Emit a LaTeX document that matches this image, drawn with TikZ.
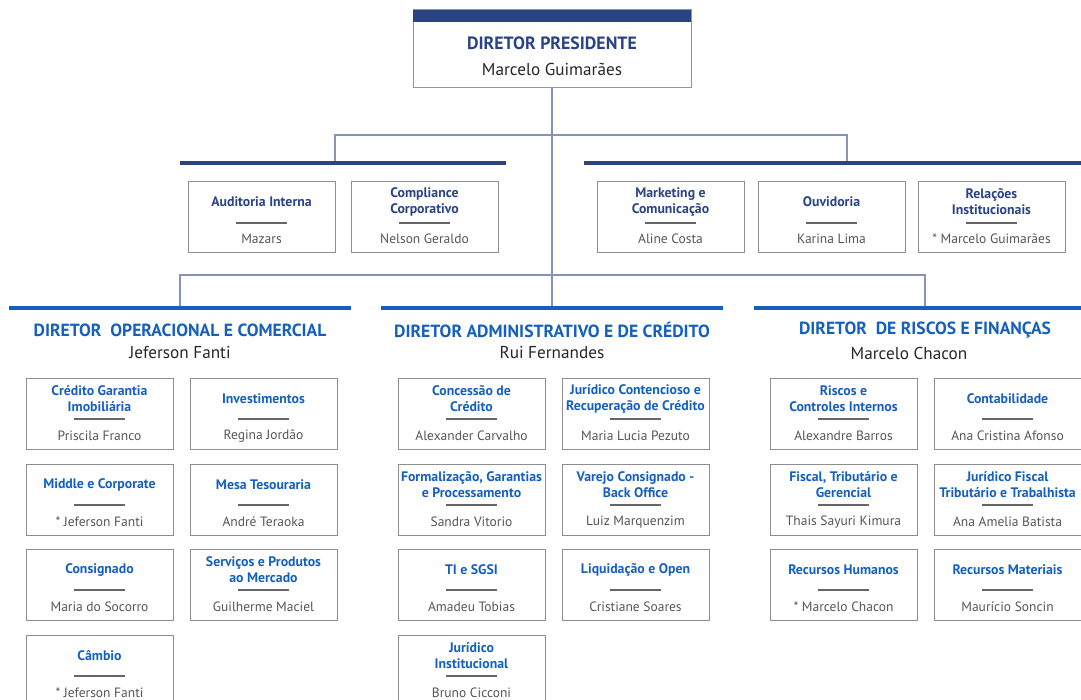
\documentclass[tikz,border=0pt]{standalone}
\usepackage{fontspec}
\setmainfont{PT Sans}
\usepackage{tikz}
\usetikzlibrary{positioning}

\definecolor{navy}{HTML}{2A4385}
\definecolor{dirblue}{HTML}{1560BD}
\definecolor{linkgray}{HTML}{8794B8}
\definecolor{boxgray}{HTML}{8E8E8E}
\definecolor{rulegray}{HTML}{666666}
\definecolor{namegray}{HTML}{555555}

\begin{document}
\begin{tikzpicture}[x=1pt, y=-1pt,
    every node/.style={align=center, inner sep=0pt, outer sep=0pt},
    link/.style={draw=linkgray, line width=1.1pt},
    topbar/.style={fill=navy, minimum height=4.5, anchor=north west},
    dirbar/.style={fill=dirblue, minimum height=4.5, minimum width=342, anchor=north west},
    unit/.style={draw=boxgray, line width=0.9pt, minimum width=147, minimum height=71, anchor=north west},
    unitrule/.style={draw=rulegray, line width=2.2pt},
    unittitle/.style={font=\fontsize{13.8}{16.2}\selectfont\bfseries},
    unitname/.style={font=\fontsize{13.5}{15}\selectfont, text=namegray},
    dirtitle/.style={font=\fontsize{17.6}{20}\selectfont\bfseries, text=dirblue},
    dirname/.style={font=\fontsize{17.2}{20}\selectfont, text=black!85}]
  \clip (0,0) rectangle (1081,700);

  % presidente
  \node[draw=linkgray, line width=1pt, minimum width=278, minimum height=78, anchor=north west] (pres) at (413,10) {};
  \fill[navy] (pres.north west) rectangle ([yshift=-12pt]pres.north east);
  \node[font=\fontsize{17.8}{20}\selectfont\bfseries, text=navy] (presTitle) at ([yshift=-33pt]pres.north) {DIRETOR PRESIDENTE};
  \node[dirname] (presName) at ([yshift=-59pt]pres.north) {Marcelo Guimarães};

  % barras
  \node[topbar, minimum width=326] (barStaffL) at (180,161) {};
  \node[topbar, minimum width=497] (barStaffR) at (584,161) {};
  \node[dirbar] (barOp) at (9,306) {};
  \node[dirbar] (barAdm) at (381,306) {};
  \node[dirbar] (barRisk) at (754,306) {};

  % ligacoes
  \coordinate (hubStaff) at (552,135);
  \coordinate (tapL) at (335,161);
  \coordinate (tapR) at (847,161);
  \coordinate (hubDir) at (552,275);
  \draw[link] (pres.south) -- (barAdm.north);
  \draw[link] (tapL) |- (hubStaff) -| (tapR);
  \draw[link] (barOp.north) |- (hubDir) -| (barRisk.north);

  % diretorias
  \node[dirtitle] (dirOp) at (180,330) {DIRETOR\ \ OPERACIONAL E COMERCIAL};
  \node[dirname] (dirOpName) at (180,353) {Jeferson Fanti};
  \node[dirtitle] (dirAdm) at (552,330) {DIRETOR ADMINISTRATIVO E DE CRÉDITO};
  \node[dirname] (dirAdmName) at (552,353) {Rui Fernandes};
  \node[dirtitle] (dirRisk) at (925,330) {DIRETOR\ \ DE RISCOS E FINANÇAS};
  \node[dirname] (dirRiskName) at (909,353) {Marcelo Chacon};

  % orgaos de staff
  \foreach \n/\x/\y/\t/\p in {
      aud/188/181/Auditoria Interna/Mazars,
      comp/351/181/Compliance\\Corporativo/Nelson Geraldo,
      mkt/597/181/Marketing e\\Comunicação/Aline Costa,
      ouv/758/181/Ouvidoria/Karina Lima,
      rel/918/181/Relações\\Institucionais/* Marcelo Guimarães} {
    \node[unit] (\n) at (\x,\y) {};
    \node[unittitle, text=navy] (\n-t) at ([yshift=-21pt]\n.north) {\t};
    \draw[unitrule] ([xshift=-25.5pt, yshift=-42pt]\n.north) -- ([xshift=25.5pt, yshift=-42pt]\n.north);
    \node[unitname] (\n-p) at ([yshift=-58pt]\n.north) {\p};
  }

  % areas das diretorias
  \foreach \n/\x/\y/\t/\p in {
      cgi/26/378/Crédito Garantia\\Imobiliária/Priscila Franco,
      inv/190/378/Investimentos/Regina Jordão,
      mid/26/464/Middle e Corporate/* Jeferson Fanti,
      mesa/190/464/Mesa Tesouraria/André Teraoka,
      cons/26/549/Consignado/Maria do Socorro,
      serv/190/549/Serviços e Produtos\\ao Mercado/Guilherme Maciel,
      camb/26/635/Câmbio/* Jeferson Fanti,
      conc/398/378/Concessão de\\Crédito/Alexander Carvalho,
      jcont/562/378/Jurídico Contencioso e\\Recuperação de Crédito/Maria Lucia Pezuto,
      form/398/464/{Formalização, Garantias\\e Processamento}/Sandra Vitorio,
      varejo/562/464/Varejo Consignado -\\Back Office/Luiz Marquenzim,
      ti/398/549/TI e SGSI/Amadeu Tobias,
      liq/562/549/Liquidação e Open/Cristiane Soares,
      jinst/398/635/Jurídico\\Institucional/Bruno Cicconi,
      risc/770/378/Riscos e\\Controles Internos/Alexandre Barros,
      cont/934/378/Contabilidade/Ana Cristina Afonso,
      fisc/770/464/{Fiscal, Tributário e\\Gerencial}/Thais Sayuri Kimura,
      jfisc/934/464/Jurídico Fiscal\\Tributário e Trabalhista/Ana Amelia Batista,
      rh/770/549/Recursos Humanos/* Marcelo Chacon,
      rm/934/549/Recursos Materiais/Maurício Soncin} {
    \node[unit] (\n) at (\x,\y) {};
    \node[unittitle, text=dirblue] (\n-t) at ([yshift=-21pt]\n.north) {\t};
    \draw[unitrule] ([xshift=-25.5pt, yshift=-41pt]\n.north) -- ([xshift=25.5pt, yshift=-41pt]\n.north);
    \node[unitname] (\n-p) at ([yshift=-58pt]\n.north) {\p};
  }
\end{tikzpicture}
\end{document}
